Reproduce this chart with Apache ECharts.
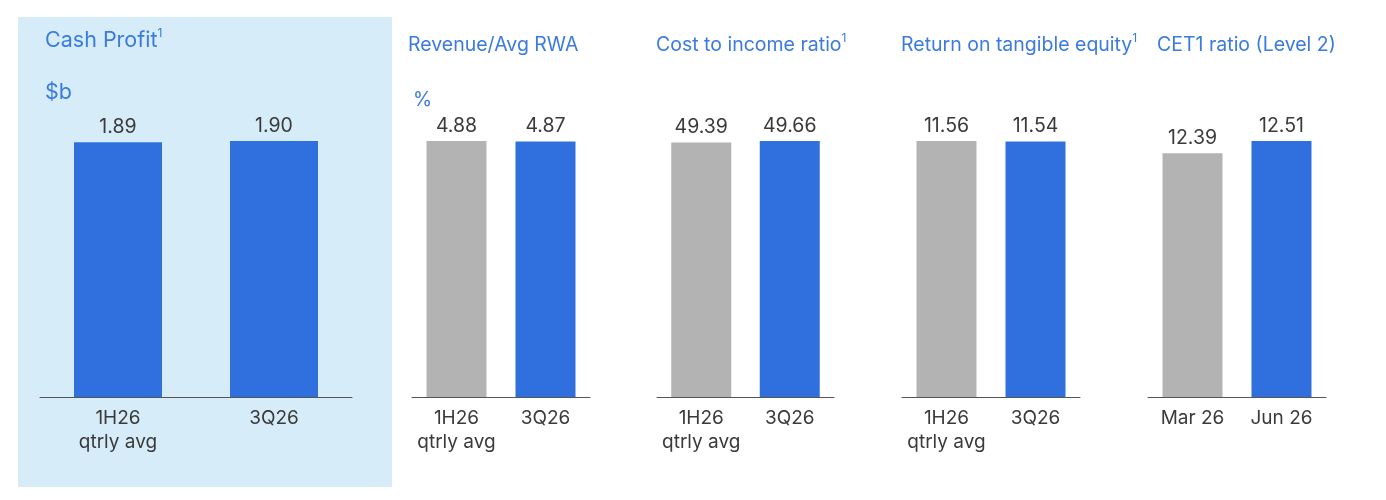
<!DOCTYPE html>
<html><head><meta charset="utf-8">
<script src="https://cdn.jsdelivr.net/npm/echarts@6/dist/echarts.min.js"></script>
<style>html,body{margin:0;padding:0;background:#fff}#c{width:1386px;height:500px}</style>
</head><body><div id="c"></div>
<script>
// ---- data ----
const titles = ['Cash Profit', 'Revenue/Avg RWA', 'Cost to income ratio', 'Return on tangible equity', 'CET1 ratio (Level 2)'];
const titleSup = ['1', '', '1', '1', ''];
const units = ['$b', '%', '', '', ''];
const categories = [
  ['1H26\nqtrly avg', '3Q26'],
  ['1H26\nqtrly avg', '3Q26'],
  ['1H26\nqtrly avg', '3Q26'],
  ['1H26\nqtrly avg', '3Q26'],
  ['Mar 26', 'Jun 26']
];
const cashProfit = [1.89, 1.90];
const revenueRwa = [4.88, 4.87];
const costIncome = [49.39, 49.66];
const rote = [11.56, 11.54];
const cet1 = [12.39, 12.51];
const panelValues = [cashProfit, revenueRwa, costIncome, rote, cet1];
const axisMin = [0, 0, 0, 0, 10];

// ---- layout / style ----
const BLUE = '#3070de', GRAY = '#b3b3b3', TITLE = '#3b7be0', TXT = '#3a3a3a';
const FONT = 'Inter, "Liberation Sans", sans-serif';
const gridLeft = [40, 412, 657, 902, 1148];
const gridWidth = [312, 178, 177, 178, 178];
const barW = [88, 60, 60, 60, 60];
const titleLeft = [40, 403, 651, 896, 1152];
const titleTop = [22, 27, 27, 27, 27];
const titleSize = [21.5, 19.5, 19.5, 19.5, 19.5];
const unitLeft = [40, 408];
const unitTop = [77, 85];

const chart = echarts.init(document.getElementById('c'), null, {renderer: 'canvas'});
const grid = [], xAxis = [], yAxis = [], series = [], title = [];
panelValues.forEach((vals, i) => {
  grid.push({left: gridLeft[i], width: gridWidth[i], top: 141, height: 256});
  xAxis.push({
    type: 'category', gridIndex: i, data: categories[i],
    axisLine: {lineStyle: {color: '#555', width: 1}}, axisTick: {show: false},
    axisLabel: {color: TXT, fontSize: 19, fontFamily: FONT, margin: 9, lineHeight: 24, interval: 0}
  });
  yAxis.push({type: 'value', gridIndex: i, min: axisMin[i], max: 'dataMax', show: false, splitLine: {show: false}});
  series.push({
    type: 'bar', xAxisIndex: i, yAxisIndex: i, barWidth: barW[i],
    data: vals.map((v, j) => ({value: v, itemStyle: {color: (i === 0 || j === 1) ? BLUE : GRAY}})),
    label: {show: true, position: 'top', distance: 5, color: TXT, fontSize: 19.5, fontFamily: FONT,
      formatter: p => p.value.toFixed(2)},
    silent: true, animation: false
  });
  title.push({
    left: titleLeft[i], top: titleTop[i],
    text: '{m|' + titles[i] + '}' + (titleSup[i] ? '{s|' + titleSup[i] + '}' : ''),
    textStyle: {fontWeight: 'normal', rich: {
      m: {color: TITLE, fontSize: titleSize[i], fontFamily: FONT, fontWeight: 'normal', lineHeight: 27},
      s: {color: TITLE, fontSize: 12, fontFamily: FONT, fontWeight: 'normal', verticalAlign: 'top', lineHeight: 15}
    }}
  });
});
units.forEach((u, i) => {
  if (!u) return;
  title.push({left: unitLeft[i], top: unitTop[i], text: u,
    textStyle: {color: TITLE, fontSize: titleSize[i], fontFamily: FONT, fontWeight: 'normal'}});
});

chart.setOption({
  animation: false,
  backgroundColor: '#ffffff',
  graphic: [{type: 'rect', z: -10, silent: true, shape: {x: 18, y: 17, width: 374, height: 470}, style: {fill: '#d6edf9'}}],
  title, grid, xAxis, yAxis, series
});
</script>
</body></html>
